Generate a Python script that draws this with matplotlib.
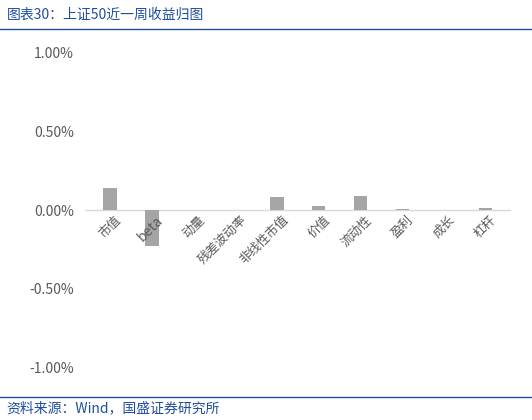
import matplotlib.pyplot as plt
from matplotlib.ticker import FuncFormatter

plt.rcParams['font.family'] = ['Noto Sans CJK SC', 'DejaVu Sans']

factors = ['市值', 'beta', '动量', '残差波动率', '非线性市值', '价值', '流动性', '盈利', '成长', '杠杆']
returns = [0.14, -0.23, 0.0, 0.0, 0.085, 0.028, 0.09, 0.008, 0.0, 0.015]

fig = plt.figure(figsize=(5.32, 4.2), dpi=100)
ax = fig.add_axes([0.16, 0.124, 0.80, 0.752])

ax.bar(range(len(factors)), returns, width=0.32, color='#a5a5a5', zorder=2)
ax.axhline(0, color='#d9d9d9', lw=1, zorder=1)
ax.set_ylim(-1.0, 1.0)
ax.set_xlim(-0.6, len(factors) - 0.4)
ax.set_yticks([-1.0, -0.5, 0.0, 0.5, 1.0])
ax.yaxis.set_major_formatter(FuncFormatter(lambda v, p: f'{v:.2f}%'))
ax.tick_params(axis='y', length=0, labelsize=10, colors='#595959', pad=8)
ax.tick_params(axis='x', length=0, labelsize=9, colors='#595959')
ax.set_xticks([])
for s in ax.spines.values():
    s.set_visible(False)

for i, name in enumerate(factors):
    ax.text(i + 0.1, -0.02, name, rotation=45, ha='right', va='top',
            fontsize=10 if name == 'beta' else 9, color='#595959',
            rotation_mode='anchor')

fig.text(0.012, 0.965, '图表30：上证50近一周收益归图', fontsize=10, color='#1f4e9c',
         style='italic', va='center')
fig.add_artist(plt.Line2D([0.0, 1.0], [0.93, 0.93], color='#1f4e9c', lw=1))
fig.add_artist(plt.Line2D([0.0, 1.0], [0.055, 0.055], color='#1f4e9c', lw=1))
fig.text(0.012, 0.027, '资料来源：Wind，国盛证券研究所', fontsize=10, color='#1f4e9c',
         style='italic', va='center')

fig.savefig('out.png', dpi=100)
